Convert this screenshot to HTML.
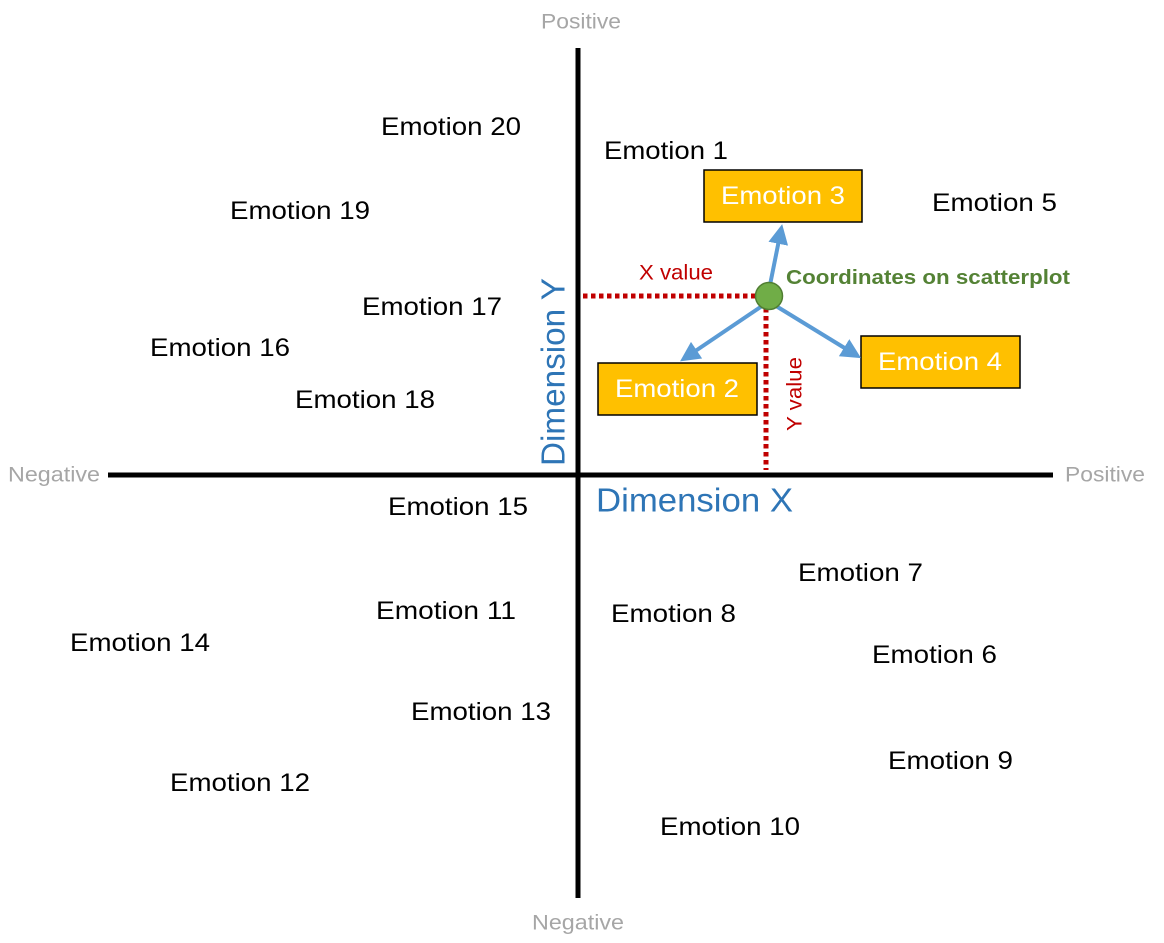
<!DOCTYPE html>
<html><head><meta charset="utf-8"><style>
html,body{margin:0;padding:0;background:#fff;}
svg{display:block;}
text{font-family:"Liberation Sans",sans-serif;}
</style></head><body>
<svg width="1164" height="943" viewBox="0 0 1164 943" xmlns="http://www.w3.org/2000/svg">
<defs>
<marker id="ah" markerWidth="5" markerHeight="5" refX="3.5" refY="2.5" orient="auto" markerUnits="strokeWidth">
<path d="M0,0 L5,2.5 L0,5 Z" fill="#5b9bd5"/>
</marker>
</defs>
<line x1="578" y1="48" x2="578" y2="898" stroke="#000" stroke-width="5"/>
<line x1="108" y1="475" x2="1053" y2="475" stroke="#000" stroke-width="5"/>
<line x1="583" y1="296" x2="756" y2="296" stroke="#c00000" stroke-width="5" stroke-dasharray="4.5 3.5"/>
<line x1="766" y1="308" x2="766" y2="470" stroke="#c00000" stroke-width="5" stroke-dasharray="4.5 3.5"/>
<rect x="704" y="170" width="158" height="52" fill="#ffc000" stroke="#000" stroke-width="1.5"/>
<rect x="598" y="363" width="159" height="52" fill="#ffc000" stroke="#000" stroke-width="1.5"/>
<rect x="861" y="336" width="159" height="52" fill="#ffc000" stroke="#000" stroke-width="1.5"/>
<text x="783" y="196" dominant-baseline="central" text-anchor="middle" font-size="25" fill="#fff" textLength="124" lengthAdjust="spacingAndGlyphs">Emotion 3</text>
<text x="677" y="389" dominant-baseline="central" text-anchor="middle" font-size="25" fill="#fff" textLength="124" lengthAdjust="spacingAndGlyphs">Emotion 2</text>
<text x="940" y="362" dominant-baseline="central" text-anchor="middle" font-size="25" fill="#fff" textLength="124" lengthAdjust="spacingAndGlyphs">Emotion 4</text>
<line x1="769" y1="290" x2="781" y2="230" stroke="#5b9bd5" stroke-width="4" marker-end="url(#ah)"/>
<line x1="762" y1="306" x2="685" y2="358" stroke="#5b9bd5" stroke-width="4" marker-end="url(#ah)"/>
<line x1="776" y1="306" x2="856" y2="355" stroke="#5b9bd5" stroke-width="4" marker-end="url(#ah)"/>
<circle cx="769" cy="296" r="13.5" fill="#70ad47" stroke="#507e32" stroke-width="1.5"/>
<text x="786" y="278" dominant-baseline="central" font-size="20" font-weight="bold" fill="#548235" textLength="284" lengthAdjust="spacingAndGlyphs">Coordinates on scatterplot</text>
<text x="639" y="273" dominant-baseline="central" font-size="21" fill="#c00000" textLength="74" lengthAdjust="spacingAndGlyphs">X value</text>
<text transform="translate(795,394) rotate(-90)" dominant-baseline="central" text-anchor="middle" font-size="21" fill="#c00000" textLength="74" lengthAdjust="spacingAndGlyphs">Y value</text>
<text x="596" y="500" dominant-baseline="central" font-size="33" fill="#2e75b6" textLength="197" lengthAdjust="spacingAndGlyphs">Dimension X</text>
<text transform="translate(553,372) rotate(-90)" dominant-baseline="central" text-anchor="middle" font-size="33" fill="#2e75b6" textLength="188" lengthAdjust="spacingAndGlyphs">Dimension Y</text>
<g font-size="21" fill="#a6a6a6" dominant-baseline="central">
<text x="581" y="22" text-anchor="middle" textLength="80" lengthAdjust="spacingAndGlyphs">Positive</text>
<text x="578" y="923" text-anchor="middle" textLength="92" lengthAdjust="spacingAndGlyphs">Negative</text>
<text x="8" y="475" textLength="92" lengthAdjust="spacingAndGlyphs">Negative</text>
<text x="1065" y="475" textLength="80" lengthAdjust="spacingAndGlyphs">Positive</text>
</g>
<g font-size="25" fill="#000" dominant-baseline="central">
<text x="381" y="127" textLength="140" lengthAdjust="spacingAndGlyphs">Emotion 20</text>
<text x="604" y="151" textLength="124" lengthAdjust="spacingAndGlyphs">Emotion 1</text>
<text x="932" y="203" textLength="125" lengthAdjust="spacingAndGlyphs">Emotion 5</text>
<text x="230" y="211" textLength="140" lengthAdjust="spacingAndGlyphs">Emotion 19</text>
<text x="362" y="307" textLength="140" lengthAdjust="spacingAndGlyphs">Emotion 17</text>
<text x="150" y="348" textLength="140" lengthAdjust="spacingAndGlyphs">Emotion 16</text>
<text x="295" y="400" textLength="140" lengthAdjust="spacingAndGlyphs">Emotion 18</text>
<text x="388" y="507" textLength="140" lengthAdjust="spacingAndGlyphs">Emotion 15</text>
<text x="798" y="573" textLength="125" lengthAdjust="spacingAndGlyphs">Emotion 7</text>
<text x="611" y="614" textLength="125" lengthAdjust="spacingAndGlyphs">Emotion 8</text>
<text x="376" y="611" textLength="140" lengthAdjust="spacingAndGlyphs">Emotion 11</text>
<text x="70" y="643" textLength="140" lengthAdjust="spacingAndGlyphs">Emotion 14</text>
<text x="872" y="655" textLength="125" lengthAdjust="spacingAndGlyphs">Emotion 6</text>
<text x="411" y="712" textLength="140" lengthAdjust="spacingAndGlyphs">Emotion 13</text>
<text x="888" y="761" textLength="125" lengthAdjust="spacingAndGlyphs">Emotion 9</text>
<text x="170" y="783" textLength="140" lengthAdjust="spacingAndGlyphs">Emotion 12</text>
<text x="660" y="827" textLength="140" lengthAdjust="spacingAndGlyphs">Emotion 10</text>
</g>
</svg>
</body></html>
